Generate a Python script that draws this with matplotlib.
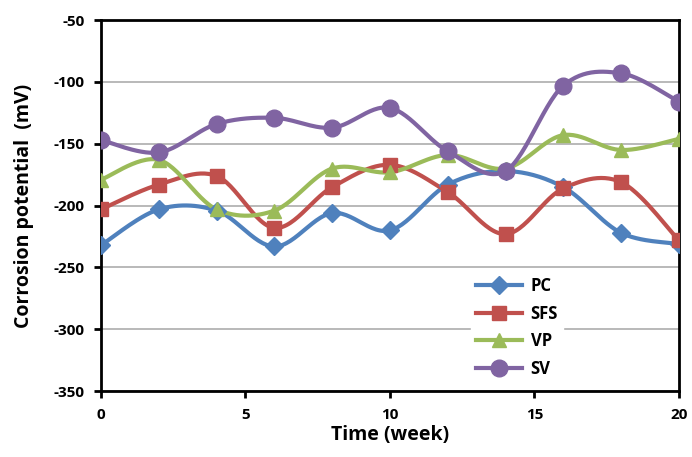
"""Corrosion potential vs time, smoothed lines (Excel-style)."""
import numpy as np
import matplotlib
matplotlib.use("Agg")
import matplotlib.pyplot as plt

weeks = [0, 2, 4, 6, 8, 10, 12, 14, 16, 18, 20]
pc = [-232, -203, -204, -233, -206, -220, -183, -172, -185, -222, -231]
sfs = [-203, -183, -176, -218, -185, -167, -189, -223, -186, -181, -228]
vp = [-179, -163, -203, -204, -170, -173, -159, -170, -143, -155, -146]
sv = [-147, -157, -134, -129, -137, -121, -156, -172, -103, -93, -116]

series = [
    ("PC", pc, "#4F81BD", "D", 9),
    ("SFS", sfs, "#C0504D", "s", 10),
    ("VP", vp, "#9BBB59", "^", 10),
    ("SV", sv, "#8064A2", "o", 12),
]


def smooth(x, y, n=30):
    # Excel-like smoothed line: cubic Bezier with Catmull-Rom control points
    x = np.asarray(x, float)
    y = np.asarray(y, float)
    p = np.column_stack([x, y])
    ext = np.vstack([p[0], p, p[-1]])
    t = np.linspace(0, 1, n)[:, None]
    out = []
    for i in range(len(p) - 1):
        p0, p1, p2, p3 = ext[i], ext[i + 1], ext[i + 2], ext[i + 3]
        c1 = p1 + (p2 - p0) / 6
        c2 = p2 - (p3 - p1) / 6
        seg = ((1 - t) ** 3) * p1 + 3 * ((1 - t) ** 2) * t * c1 + 3 * (1 - t) * t ** 2 * c2 + t ** 3 * p2
        out.append(seg if i == 0 else seg[1:])
    out = np.vstack(out)
    return out[:, 0], out[:, 1]


plt.rcParams["font.family"] = ["Open Sans", "DejaVu Sans"]
plt.rcParams["font.weight"] = "bold"
plt.rcParams["axes.unicode_minus"] = False

fig = plt.figure(figsize=(6.92, 4.57), dpi=100)
ax = fig.add_axes([0.146, 0.144, 0.835, 0.812])

for name, vals, color, marker, ms in series:
    xs, ys = smooth(weeks, vals)
    ax.plot(xs, ys, color=color, lw=3, zorder=3)
    ax.plot(weeks, vals, ls="none", marker=marker, color=color, ms=ms, zorder=4)
    ax.plot([], [], color=color, lw=3, marker=marker, ms=ms, label=name)

ax.set_xlim(0, 20)
ax.set_ylim(-350, -50)
ax.set_xticks([0, 5, 10, 15, 20])
ax.set_yticks(np.arange(-350, -49, 50))
ax.yaxis.grid(True, color="#A6A6A6", lw=1.1)
ax.set_axisbelow(True)
for s in ax.spines.values():
    s.set_linewidth(2)
ax.tick_params(direction="out", length=5, width=2, labelsize=11, pad=7)
for lab in ax.get_xticklabels() + ax.get_yticklabels():
    lab.set_fontweight("bold")

ax.set_xlabel("Time (week)", fontsize=14, fontweight="bold", labelpad=2)
ax.set_ylabel("Corrosion potential  (mV)", fontsize=14, fontweight="bold", labelpad=14)

leg = ax.legend(loc="lower left", bbox_to_anchor=(0.625, 0.0), frameon=True,
                fancybox=False, edgecolor="white", framealpha=1,
                prop={"weight": "bold", "size": 12}, handlelength=2.8,
                labelspacing=0.58, borderpad=0.3, handletextpad=0.5)
leg.set_zorder(5)

fig.savefig("out.png", dpi=100)
